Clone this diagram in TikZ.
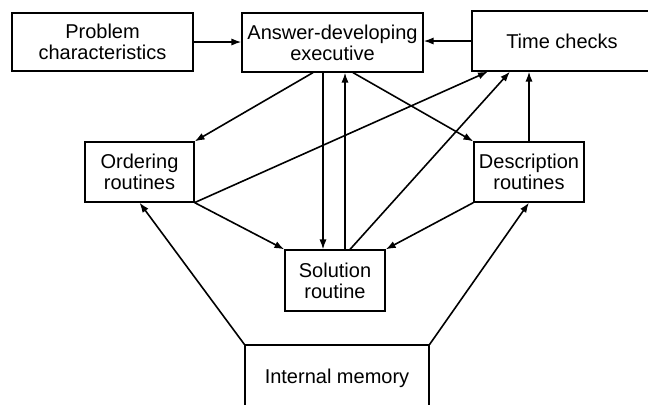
\documentclass[tikz,border=0pt]{standalone}
\usepackage{fontspec}
\setmainfont{Liberation Sans}
\usetikzlibrary{arrows.meta,calc}

\tikzset{
    box/.style={draw, line width=0.6pt, align=center, inner sep=0pt,
        font=\fontsize{10}{10.5}\selectfont},
    arr/.style={-{Latex[length=5pt,width=3.6pt]}, line width=0.8pt}
}

\begin{document}
\begin{tikzpicture}[x=0.5pt, y=-0.5pt]

            \useasboundingbox (0,0) rectangle (648,404);
            \clip (0,0) rectangle (648,404);

            %top row
            \node[box, minimum width=90.5pt, minimum height=29pt] (prob) at (102.5, 42) {Problem\\characteristics};
            \node[box, minimum width=90.5pt, minimum height=29.5pt] (exec) at (332.5, 42.5) {Answer-developing\\executive};
            \node[box, minimum width=90pt, minimum height=30pt] (time) at (562, 41) {Time checks};

            %routines
            \node[box, minimum width=54.5pt, minimum height=30pt] (order) at (139.5, 172) {Ordering\\routines};
            \node[box, minimum width=55pt, minimum height=30pt] (descr) at (529, 172) {Description\\routines};
            \node[box, minimum width=50pt, minimum height=30.5pt] (sol) at (335, 280.5) {Solution\\routine};

            %memory
            \node[box, minimum width=92pt, minimum height=33pt] (mem) at (337, 378) {Internal memory};

            %attachment points
            \coordinate (e1) at ($(exec.south)+(-19.5,0)$);
            \coordinate (e2) at ($(exec.south)+(-9.5,0)$);
            \coordinate (e4) at ($(exec.south)+(20.5,0)$);
            \coordinate (s2) at ($(sol.north)+(10,0)$);
            \coordinate (s3) at ($(sol.north)+(15,0)$);
            \coordinate (t1) at ($(time.south)+(-74,0)$);
            \coordinate (t2) at ($(time.south)+(-52,0)$);

            %connections top row
            \draw[arr] (prob.east) -- (prob.east -| exec.west);
            \draw[arr] (time.west) -- (time.west -| exec.east);

            %connections executive
            \draw[arr] (e1) -- (order.north east);
            \draw[arr] (e2) -- (e2 |- sol.north);
            \draw[arr] (s2) -- (s2 |- exec.south);
            \draw[arr] (e4) -- (descr.north west);

            %connections time checks
            \draw[arr] (order.south east) -- (t1);
            \draw[arr] (s3) -- (t2);
            \draw[arr] (descr.north) -- (descr.north |- time.south);

            %connections solution routine
            \draw[arr] (order.south east) -- (sol.north west);
            \draw[arr] (descr.south west) -- (sol.north east);

            %connections memory
            \draw[arr] (mem.north west) -- (order.south);
            \draw[arr] (mem.north east) -- (descr.south);

        \end{tikzpicture}
\end{document}
